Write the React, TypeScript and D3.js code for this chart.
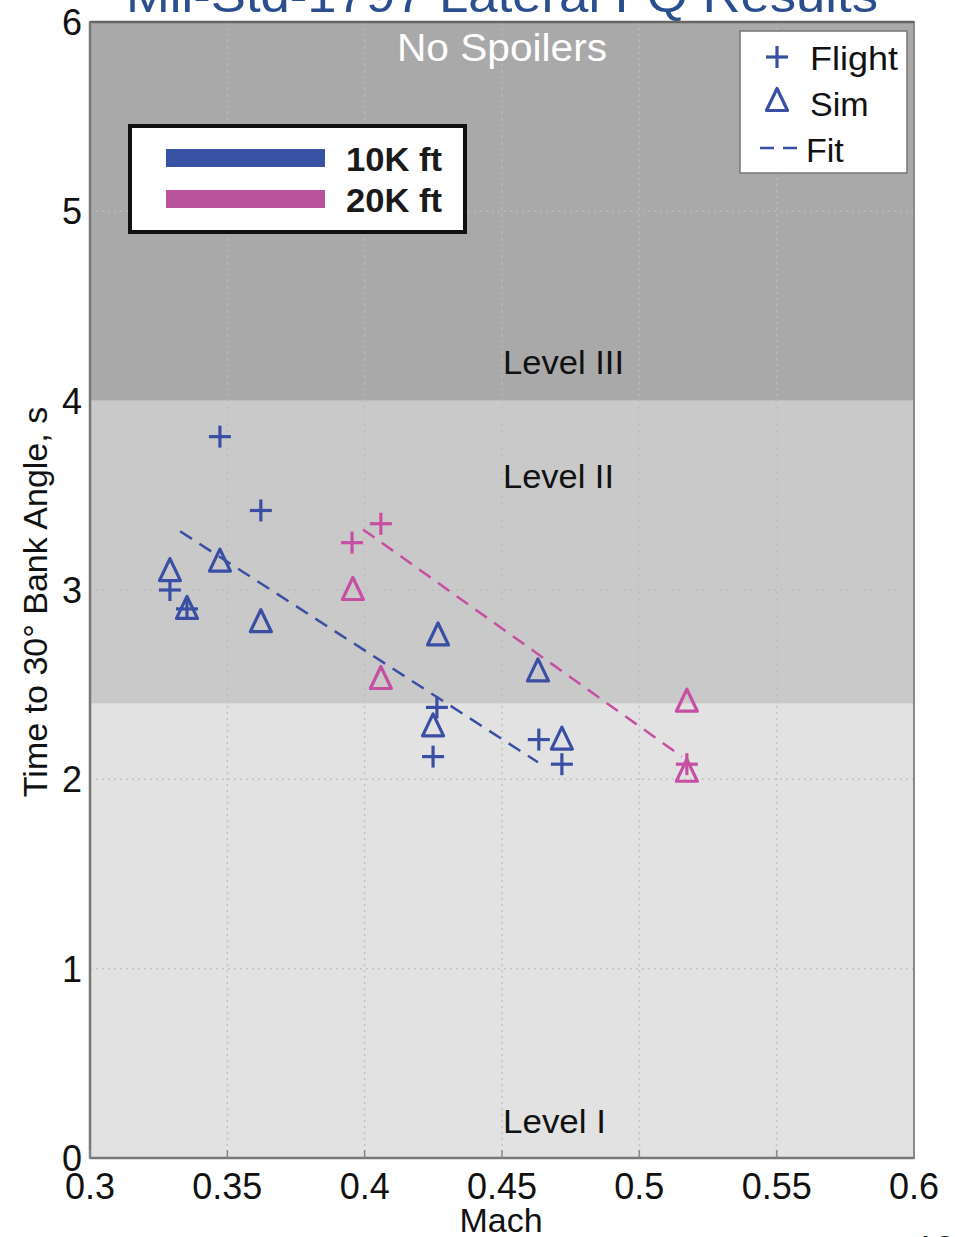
import React from "react";
import * as d3 from "d3";

const W = 955;
const H = 1237;

const xTicks = [0.3, 0.35, 0.4, 0.45, 0.5, 0.55, 0.6];
const xTickLabels = ["0.3", "0.35", "0.4", "0.45", "0.5", "0.55", "0.6"];
const yTicks = [0, 1, 2, 3, 4, 5, 6];

const levelBands = [
  { name: "Level I", y0: 0, y1: 2.4, color: "#e2e2e2", labelY: 0.13 },
  { name: "Level II", y0: 2.4, y1: 4, color: "#c9c9c9", labelY: 3.54 },
  { name: "Level III", y0: 4, y1: 6, color: "#a9a9a9", labelY: 4.14 },
];

const blueFlight: [number, number][] = [
  [0.3473, 3.81],
  [0.3622, 3.42],
  [0.3291, 3.0],
  [0.3353, 2.9],
  [0.4263, 2.38],
  [0.4249, 2.12],
  [0.4634, 2.21],
  [0.4718, 2.08],
];
const blueSim: [number, number][] = [
  [0.3291, 3.1],
  [0.3353, 2.9],
  [0.3473, 3.15],
  [0.3622, 2.83],
  [0.4267, 2.76],
  [0.4249, 2.28],
  [0.4631, 2.57],
  [0.4718, 2.21],
];
const magentaFlight: [number, number][] = [
  [0.3954, 3.25],
  [0.4059, 3.35],
  [0.5173, 2.08],
];
const magentaSim: [number, number][] = [
  [0.3957, 3.0],
  [0.4059, 2.53],
  [0.5173, 2.41],
  [0.5173, 2.04],
];
const blueFit: [number, number][] = [
  [0.3328, 3.31],
  [0.4631, 2.09],
];
const magentaFit: [number, number][] = [
  [0.3994, 3.32],
  [0.5155, 2.12],
];

const BLUE = "#3a4fa3";
const MAG = "#c64fa4";

const FONT = "'Liberation Sans', Arial, Helvetica, sans-serif";

export default function App() {
  const x = d3.scaleLinear().domain([0.3, 0.6]).range([90, 914]);
  const y = d3.scaleLinear().domain([0, 6]).range([1158, 22]);
  const line = d3
    .line<[number, number]>()
    .x((d) => x(d[0]))
    .y((d) => y(d[1]));

  const plus = (cx: number, cy: number, color: string, key: string) => (
    <g key={key} stroke={color} strokeWidth={3.2}>
      <line x1={cx - 11} x2={cx + 11} y1={cy} y2={cy} />
      <line x1={cx} x2={cx} y1={cy - 11} y2={cy + 11} />
    </g>
  );
  const tri = (cx: number, cy: number, color: string, key: string) => {
    const s = 10.5;
    return (
      <path
        key={key}
        d={`M${cx},${cy - s - 2}L${cx + s},${cy + s - 1}L${cx - s},${cy + s - 1}Z`}
        fill="none"
        stroke={color}
        strokeWidth={3.2}
        strokeLinejoin="round"
      />
    );
  };

  return (
    <svg
      width={W}
      height={H}
      style={{ position: "absolute", left: 0, top: 0, background: "#fff" }}
      fontFamily={FONT}
    >
      {/* title, cut off at top */}
      <text
        x={502}
        y={12}
        textAnchor="middle"
        fontSize={48}
        fill="#2b4f8e"
        textLength={752}
        lengthAdjust="spacingAndGlyphs"
      >
        Mil-Std-1797 Lateral FQ Results
      </text>

      {/* bands */}
      {levelBands.map((b) => (
        <rect
          key={b.name}
          x={x(0.3)}
          y={y(b.y1)}
          width={x(0.6) - x(0.3)}
          height={y(b.y0) - y(b.y1)}
          fill={b.color}
        />
      ))}

      {/* grid */}
      {xTicks.slice(1, -1).map((t) => (
        <line
          key={"gx" + t}
          x1={x(t)}
          x2={x(t)}
          y1={y(6)}
          y2={y(0)}
          stroke="#bdbdbd"
          strokeWidth={1.5}
          strokeDasharray="2,4"
          opacity={0.8}
        />
      ))}
      {yTicks.slice(1, -1).map((t) => (
        <line
          key={"gy" + t}
          x1={x(0.3)}
          x2={x(0.6)}
          y1={y(t)}
          y2={y(t)}
          stroke="#bdbdbd"
          strokeWidth={1.5}
          strokeDasharray="2,4"
          opacity={0.8}
        />
      ))}

      {/* frame */}
      <rect
        x={x(0.3)}
        y={y(6)}
        width={x(0.6) - x(0.3)}
        height={y(0) - y(6)}
        fill="none"
        stroke="#8a8a8a"
        strokeWidth={2}
      />
      <line x1={x(0.3)} x2={x(0.6)} y1={y(6)} y2={y(6)} stroke="#666" strokeWidth={2.5} />
      <line x1={x(0.3)} x2={x(0.3)} y1={y(6)} y2={y(0)} stroke="#777" strokeWidth={2.5} />
      <line x1={x(0.3)} x2={x(0.6)} y1={y(0)} y2={y(0)} stroke="#777" strokeWidth={2.5} />
      {xTicks.map((t) => (
        <line key={"tx" + t} x1={x(t)} x2={x(t)} y1={y(0)} y2={y(0) - 8} stroke="#888" strokeWidth={1.5} />
      ))}

      {/* level labels */}
      {levelBands.map((b) => (
        <text
          key={"l" + b.name}
          x={503}
          y={y(b.labelY)}
          fontSize={33}
          fill="#111"
          textLength={b.name === "Level III" ? 121 : b.name === "Level II" ? 111 : 103}
          lengthAdjust="spacingAndGlyphs"
        >
          {b.name}
        </text>
      ))}

      <text x={502} y={61} textAnchor="middle" fontSize={38} fill="#fff" textLength={210} lengthAdjust="spacingAndGlyphs">
        No Spoilers
      </text>

      {/* fits */}
      <path d={line(blueFit) || ""} fill="none" stroke={BLUE} strokeWidth={2.5} strokeDasharray="14,9" />
      <path d={line(magentaFit) || ""} fill="none" stroke={MAG} strokeWidth={2.5} strokeDasharray="14,9" />

      {/* markers */}
      {blueSim.map((d, i) => tri(x(d[0]), y(d[1]), BLUE, "bs" + i))}
      {blueFlight.map((d, i) => plus(x(d[0]), y(d[1]), BLUE, "bf" + i))}
      {magentaSim.map((d, i) => tri(x(d[0]), y(d[1]), MAG, "ms" + i))}
      {magentaFlight.map((d, i) => plus(x(d[0]), y(d[1]), MAG, "mf" + i))}

      {/* y ticks */}
      {yTicks.map((t) => (
        <text
          key={"yl" + t}
          x={82}
          y={y(t) + 13}
          textAnchor="end"
          fontSize={36}
          fill="#111"
        >
          {t}
        </text>
      ))}
      {/* x ticks */}
      {xTicks.map((t, i) => (
        <text key={"xl" + t} x={x(t)} y={1199} textAnchor="middle" fontSize={36} fill="#111">
          {xTickLabels[i]}
        </text>
      ))}
      <text x={501} y={1232} textAnchor="middle" fontSize={34} fill="#111">
        Mach
      </text>
      <text
        transform="translate(47,602) rotate(-90)"
        textAnchor="middle"
        fontSize={34}
        fill="#111"
      >
        Time to 30° Bank Angle, s
      </text>

      {/* page number, cut off */}
      <text x={935} y={1262} textAnchor="middle" fontSize={36} fill="#111">
        13
      </text>

      {/* marker legend */}
      <rect x={740} y={31} width={167} height={142} fill="#fff" stroke="#777" strokeWidth={1.5} />
      {plus(777, 57, BLUE, "lp")}
      {tri(777, 101, BLUE, "lt")}
      <line x1={760} x2={803} y1={148} y2={148} stroke={BLUE} strokeWidth={2.5} strokeDasharray="14,9" />
      <text x={810} y={70} fontSize={34} fill="#111" textLength={88} lengthAdjust="spacingAndGlyphs">Flight</text>
      <text x={810} y={116} fontSize={34} fill="#111">Sim</text>
      <text x={806} y={162} fontSize={34} fill="#111">Fit</text>

      {/* altitude legend */}
      <rect x={130} y={126} width={335} height={106} fill="#fff" stroke="#111" strokeWidth={4} />
      <rect x={166} y={149} width={159} height={18} fill="#3953a4" />
      <rect x={166} y={190} width={159} height={18} fill="#b9539c" />
      <text x={346} y={171} fontSize={33} fontWeight="bold" fill="#1a1a1a" textLength={96} lengthAdjust="spacingAndGlyphs">10K ft</text>
      <text x={346} y={212} fontSize={33} fontWeight="bold" fill="#1a1a1a" textLength={96} lengthAdjust="spacingAndGlyphs">20K ft</text>
    </svg>
  );
}
